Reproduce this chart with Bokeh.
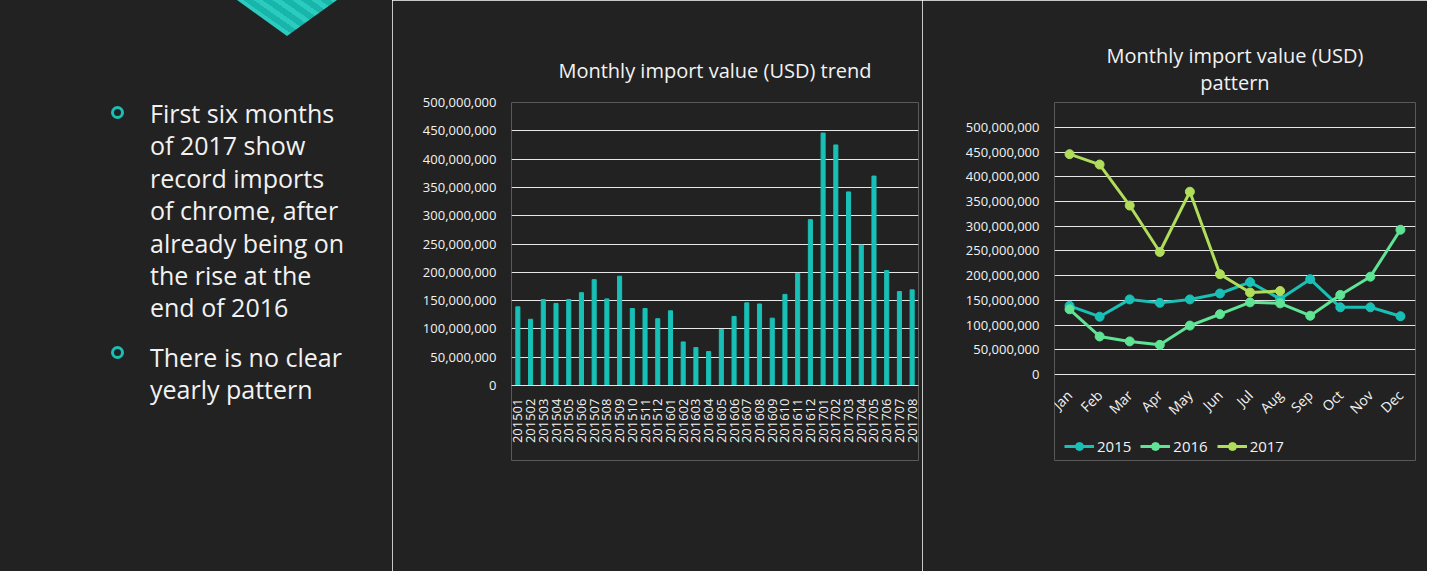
from math import pi
from bokeh.plotting import figure
from bokeh.models import (Range1d, FactorRange, NumeralTickFormatter, FixedTicker,
                          Title, Legend, LegendItem, Div)
from bokeh.layouts import row
from bokeh.embed import file_html
from bokeh.resources import INLINE

# ---------------- data ----------------
months = ["Jan", "Feb", "Mar", "Apr", "May", "Jun", "Jul", "Aug", "Sep", "Oct", "Nov", "Dec"]
years = ["2015", "2016", "2017"]
imports_2015 = [139e6, 117e6, 152e6, 145e6, 152e6, 164e6, 187e6, 153e6, 193e6, 136e6, 136e6, 118e6]
imports_2016 = [132e6, 77e6, 67e6, 60e6, 99e6, 122e6, 146e6, 144e6, 119e6, 161e6, 198e6, 293e6]
imports_2017 = [446e6, 425e6, 342e6, 248e6, 370e6, 203e6, 166e6, 169e6]
series = [imports_2015, imports_2016, imports_2017]
y_ticks = [0, 50e6, 100e6, 150e6, 200e6, 250e6, 300e6, 350e6, 400e6, 450e6, 500e6]

bar_title = "Monthly import value (USD) trend"
line_title = ["Monthly import value (USD)", "pattern"]
bullet_1 = ["First six months", "of 2017 show", "record imports", "of chrome, after",
            "already being on", "the rise at the", "end of 2016"]
bullet_2 = ["There is no clear", "yearly pattern"]

# ---------------- style ----------------
BG = "#222222"
TEAL = "#18c0b6"
COLORS = ["#18c0b6", "#5fe394", "#b0dd5a"]
GRID = "#e6e6e6"
TXT = "#f2f2f2"
FONT = "Open Sans"

periods = []
values = []
for y, vals in zip(years, series):
    for i, v in enumerate(vals):
        periods.append(f"{y}{i + 1:02d}")
        values.append(v)

# ---------------- left panel (text) ----------------
bullet_css = ("position:absolute;left:110.5px;width:13px;height:13px;"
              f"border:3px solid {TEAL};border-radius:50%;")
text_css = ("position:absolute;left:150px;font-size:25px;line-height:32.4px;"
            "white-space:nowrap;")
html = (
    f'<div style="position:relative;width:392px;height:571px;background:{BG};overflow:hidden;'
    f"font-family:'{FONT}';color:{TXT};\">"
    '<div style="position:absolute;left:237px;top:0;width:100px;height:36px;'
    'clip-path:polygon(0 0,100% 0,50% 100%);'
    'background:repeating-linear-gradient(35deg,#17b5aa 0 6px,#2ccbbf 6px 11px);"></div>'
    f'<div style="{bullet_css}top:105.5px;"></div>'
    f'<div style="{bullet_css}top:345.5px;"></div>'
    f'<div style="{text_css}top:97px;">' + "<br>".join(bullet_1) + "</div>"
    f'<div style="{text_css}top:340.6px;">' + "<br>".join(bullet_2) + "</div>"
    "</div>"
)
left = Div(text=html, width=392, height=571, margin=(0, 0, 0, 0))

# Both chart frames span the same pixel rows (row layouts align plot frames);
# the value ranges are padded so that 0 and 500M land where the reference draws them,
# and the category axes are pinned at value 0.

# ---------------- bar chart ----------------
bar = figure(width=530, height=571, x_range=FactorRange(*periods), y_range=Range1d(-132.5e6, 500e6),
             output_backend="svg", toolbar_location=None,
             min_border_left=119, min_border_right=4, min_border_top=102, min_border_bottom=111,
             background_fill_color=BG, border_fill_color=BG, outline_line_color=None)
bar.vbar(x=periods, top=values, width=0.32, color=TEAL)
bar.add_layout(Title(text=bar_title, align="center", offset=-50, text_font=FONT, text_font_size="20px",
                     text_color=TXT, text_font_style="normal", standoff=38), "above")

# ---------------- line chart ----------------
line = figure(width=505, height=571, x_range=FactorRange(*months),
              y_range=Range1d(-174.1e6, 550.6e6),
              output_backend="svg", toolbar_location=None,
              min_border_left=132, min_border_right=12, min_border_top=102, min_border_bottom=111,
              background_fill_color=BG, border_fill_color=BG, outline_line_color=None)
items = []
for y, vals, c in zip(years, series, COLORS):
    r1 = line.line(months[:len(vals)], vals, line_width=3, color=c)
    r2 = line.scatter(months[:len(vals)], vals, size=9, color=c)
    items.append(LegendItem(label=y, renderers=[r1, r2]))
legend = Legend(items=items, orientation="horizontal", location=(10, 4),
                background_fill_alpha=0, border_line_color=None, label_text_color=TXT,
                label_text_font=FONT, label_text_font_size="15px", glyph_width=30, glyph_height=20,
                spacing=9, label_standoff=3, padding=3, margin=0)
line.add_layout(legend)
line.add_layout(Title(text=line_title[1], align="center", offset=-51, text_font=FONT, text_font_size="20px",
                      text_color=TXT, text_font_style="normal", standoff=13), "above")
line.add_layout(Title(text=line_title[0], align="center", offset=-51, text_font=FONT, text_font_size="20px",
                      text_color=TXT, text_font_style="normal", standoff=-16), "above")

for p in (bar, line):
    p.xgrid.grid_line_color = None
    p.ygrid.grid_line_color = GRID
    p.yaxis.ticker = FixedTicker(ticks=y_ticks)
    p.ygrid.ticker = FixedTicker(ticks=y_ticks)
    p.yaxis.formatter = NumeralTickFormatter(format="0,0")
    p.yaxis.axis_line_color = None
    p.axis.major_tick_line_color = None
    p.axis.minor_tick_line_color = None
    p.axis.major_label_text_color = TXT
    p.axis.major_label_text_font = FONT
    p.axis.major_label_text_font_size = "13px"
    p.yaxis.major_label_standoff = 9
    p.xaxis.fixed_location = 0

bar.xaxis.axis_line_color = GRID
bar.xaxis.major_label_standoff = 7
bar.xaxis.major_label_orientation = pi / 2
bar.xaxis.major_label_overrides = {f: ("" if i % 2 else f) for i, f in enumerate(periods)}
line.xaxis.major_label_orientation = pi / 4
line.xaxis.axis_line_color = None
line.xaxis.major_label_standoff = 12
line.xaxis.major_label_text_font_size = "14px"

layout = row(left, bar, line)
open("out.html", "w").write(file_html(layout, INLINE))
